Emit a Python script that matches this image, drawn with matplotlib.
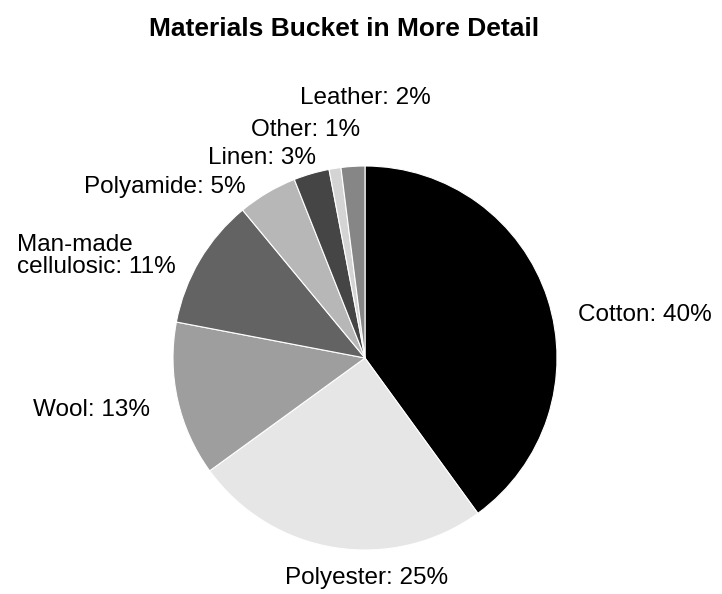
import matplotlib
matplotlib.use("Agg")
import matplotlib.pyplot as plt

materials = ["Cotton", "Polyester", "Wool", "Man-made\ncellulosic", "Polyamide",
             "Linen", "Other", "Leather"]
shares = [40, 25, 13, 11, 5, 3, 1, 2]
colores = ["#000000", "#e6e6e6", "#9e9e9e", "#636363", "#b7b7b7",
           "#454545", "#d4d4d4", "#868686"]

# label anchor positions, in units of the pie radius
label_pos = [(1.11, 0.224, "left"), (0.01, -1.146, "center"), (-1.12, -0.271, "right"),
             (-0.984, 0.531, "right"), (-0.62, 0.891, "right"), (-0.255, 1.042, "right"),
             (-0.026, 1.1875, "right"), (0.344, 1.354, "right")]

fig = plt.figure(figsize=(7.22, 5.94), dpi=100)
cx, cy, r = 365, 358, 192
ax = fig.add_axes([(cx - r) / 722, (594 - cy - r) / 594, 2 * r / 722, 2 * r / 594])

ax.pie(shares, colors=colores, startangle=90, counterclock=False, radius=1,
       wedgeprops=dict(edgecolor="white", linewidth=0.8))
ax.set_xlim(-1, 1)
ax.set_ylim(-1, 1)
ax.set_aspect("equal")
ax.axis("off")

for nombre, v, (x, y, ha) in zip(materials, shares, label_pos):
    ax.text(x, y, f"{nombre}: {v}%", ha=ha, va="center", multialignment="left",
            fontsize=17.5, family="Liberation Sans", clip_on=False, linespacing=1.05)

fig.text(344 / 722, 1 - 29 / 594, "Materials Bucket in More Detail", ha="center", va="center",
         fontsize=19, fontweight="bold", family="Liberation Sans")

fig.savefig("out.png", dpi=100)
